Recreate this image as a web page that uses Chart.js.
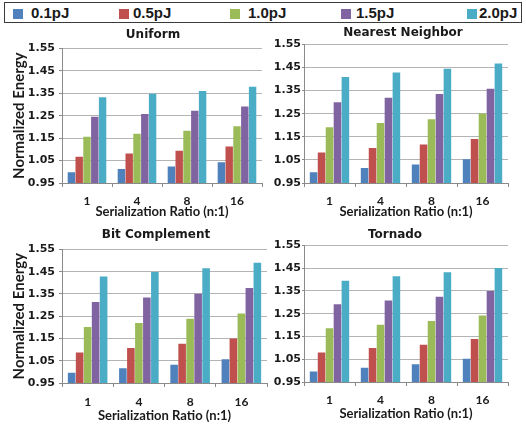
<!DOCTYPE html>
<html>
<head>
<meta charset="utf-8">
<script src="https://cdn.jsdelivr.net/npm/chart.js@4/dist/chart.umd.min.js"></script>
<style>
  body { margin: 0; background: #fff; }
  #wrap { position: relative; width: 526px; height: 427px; overflow: hidden; }
  canvas { position: absolute; }
  #legend { position: absolute; left: 4px; top: 2px; width: 516px; height: 19px; border: 1.5px solid #3a3a3a; }
  .sw { position: absolute; top: 6px; width: 10px; height: 10px; }
  .lt { position: absolute; top: 0px; font: bold 15px "Liberation Sans", Arial, sans-serif; color: #1a1a1a; line-height: 19px; }
</style>
</head>
<body>
<div id="wrap">
  <div id="legend"></div>
  <canvas id="c_uniform"></canvas>
  <canvas id="c_nn"></canvas>
  <canvas id="c_bitcomp"></canvas>
  <canvas id="c_tornado"></canvas>
</div>
<script>
const categories = ['1', '4', '8', '16'];
const seriesNames = ['0.1pJ', '0.5pJ', '1.0pJ', '1.5pJ', '2.0pJ'];
const seriesColors = ['#4F81BD', '#C0504D', '#9BBB59', '#8064A2', '#4BACC6'];
const yTicks = [0.95, 1.05, 1.15, 1.25, 1.35, 1.45, 1.55];

// one row per series (0.1pJ .. 2.0pJ), one value per serialization ratio
const uniform = [
  [0.998, 1.012, 1.024, 1.043],
  [1.067, 1.081, 1.094, 1.113],
  [1.156, 1.170, 1.183, 1.203],
  [1.245, 1.258, 1.272, 1.291],
  [1.332, 1.348, 1.360, 1.379]
];
const nearestNeighbor = [
  [0.996, 1.015, 1.030, 1.053],
  [1.082, 1.101, 1.117, 1.140],
  [1.191, 1.210, 1.226, 1.251],
  [1.300, 1.319, 1.335, 1.358],
  [1.409, 1.428, 1.445, 1.467]
];
const bitComplement = [
  [0.996, 1.016, 1.032, 1.057],
  [1.087, 1.107, 1.126, 1.150],
  [1.201, 1.220, 1.238, 1.262],
  [1.314, 1.334, 1.351, 1.377],
  [1.428, 1.448, 1.465, 1.490]
];
const tornado = [
  [0.996, 1.013, 1.028, 1.052],
  [1.080, 1.099, 1.114, 1.139],
  [1.186, 1.202, 1.218, 1.242],
  [1.291, 1.308, 1.324, 1.350],
  [1.395, 1.414, 1.432, 1.451]
];

// legend (html)
const legendX = [[8, 26], [114, 128], [225, 243], [336, 351], [462, 474]];
const legend = document.getElementById('legend');
seriesNames.forEach((name, i) => {
  const sw = document.createElement('div');
  sw.className = 'sw';
  sw.style.left = legendX[i][0] + 'px';
  sw.style.background = seriesColors[i];
  legend.appendChild(sw);
  const lt = document.createElement('div');
  lt.className = 'lt';
  lt.style.left = legendX[i][1] + 'px';
  lt.textContent = name;
  legend.appendChild(lt);
});

const textColor = '#1a1a1a';

function makeChart(id, box, title, values, opt) {
  const canvas = document.getElementById(id);
  canvas.style.left = box.left + 'px';
  canvas.style.top = box.top + 'px';
  canvas.style.width = box.width + 'px';
  canvas.style.height = box.height + 'px';
  canvas.width = box.width;
  canvas.height = box.height;

  return new Chart(canvas, {
    type: 'bar',
    data: {
      labels: categories,
      datasets: values.map((vals, i) => ({
        label: seriesNames[i],
        data: vals,
        backgroundColor: seriesColors[i],
        borderWidth: 0,
        barPercentage: 0.95,
        categoryPercentage: 0.78
      }))
    },
    options: {
      responsive: false,
      animation: false,
      layout: { padding: 0 },
      plugins: {
        legend: { display: false },
        tooltip: { enabled: false },
        title: {
          display: true,
          text: title,
          color: textColor,
          font: { family: 'DejaVu Sans', size: 12, weight: 'bold' },
          padding: { top: opt.titleTop, bottom: opt.titleBottom }
        }
      },
      scales: {
        x: {
          afterFit: s => { s.height = opt.xHeight; },
          grid: { drawOnChartArea: false, drawTicks: true, tickLength: 4, color: '#8a8a8a' },
          border: { display: true, color: '#8a8a8a', width: 1 },
          ticks: {
            color: textColor,
            padding: opt.xTickPad,
            font: { family: 'Lato', size: 12, weight: 'bold' }
          },
          title: {
            display: true,
            text: 'Serialization Ratio (n:1)',
            color: textColor,
            font: { family: 'Lato', size: 13, weight: 'bold' },
            padding: { top: 0, bottom: opt.xTitleBottom }
          }
        },
        y: {
          min: 0.95,
          max: 1.55,
          afterFit: s => { s.width = opt.yWidth; },
          afterBuildTicks: s => { s.ticks = yTicks.map(v => ({ value: v })); },
          grid: { color: '#b4b4b4', tickColor: '#8a8a8a', tickLength: opt.yTickLen },
          border: { display: true, color: '#8a8a8a', width: 1 },
          ticks: {
            color: textColor,
            padding: opt.yTickPad,
            font: { family: 'DejaVu Sans', size: 11, weight: 'bold' },
            callback: v => Number(v).toFixed(2)
          },
          title: {
            display: opt.yTitle,
            text: 'Normalized Energy',
            color: textColor,
            font: { family: 'Lato', size: 15, weight: 'bold' },
            padding: { top: 10, bottom: 0 }
          }
        },
        // empty spacer on the right so the plot ends where the reference's does
        // while the title stays centred on the whole canvas
        spacer: {
          position: 'right',
          afterFit: s => { s.width = opt.padRight; },
          grid: { display: false },
          border: { display: false },
          ticks: { display: false }
        }
      }
    }
  });
}

const leftOpt = { yWidth: 62, yTickLen: 3, yTickPad: 4, yTitle: true };
const rightOpt = { yWidth: 40, yTickLen: 2, yTickPad: 1, yTitle: false };

makeChart('c_uniform', { left: 0, top: 24, width: 306, height: 198 }, 'Uniform', uniform,
  Object.assign({}, leftOpt, { padRight: 44, titleTop: 4, titleBottom: 6, xHeight: 39, xTickPad: 7, xTitleBottom: 2 }));

makeChart('c_nn', { left: 264, top: 24, width: 278, height: 198 }, 'Nearest Neighbor', nearestNeighbor,
  Object.assign({}, rightOpt, { padRight: 34, titleTop: 2, titleBottom: 4, xHeight: 39, xTickPad: 7, xTitleBottom: 2 }));

makeChart('c_bitcomp', { left: 0, top: 222, width: 312, height: 205 }, 'Bit Complement', bitComplement,
  Object.assign({}, leftOpt, { padRight: 45, titleTop: 6, titleBottom: 7, xHeight: 44, xTickPad: 8, xTitleBottom: 3 }));

makeChart('c_tornado', { left: 264, top: 222, width: 262, height: 205 }, 'Tornado', tornado,
  Object.assign({}, rightOpt, { padRight: 18, titleTop: 6, titleBottom: 3, xHeight: 45, xTickPad: 7, xTitleBottom: 5 }));
</script>
</body>
</html>
